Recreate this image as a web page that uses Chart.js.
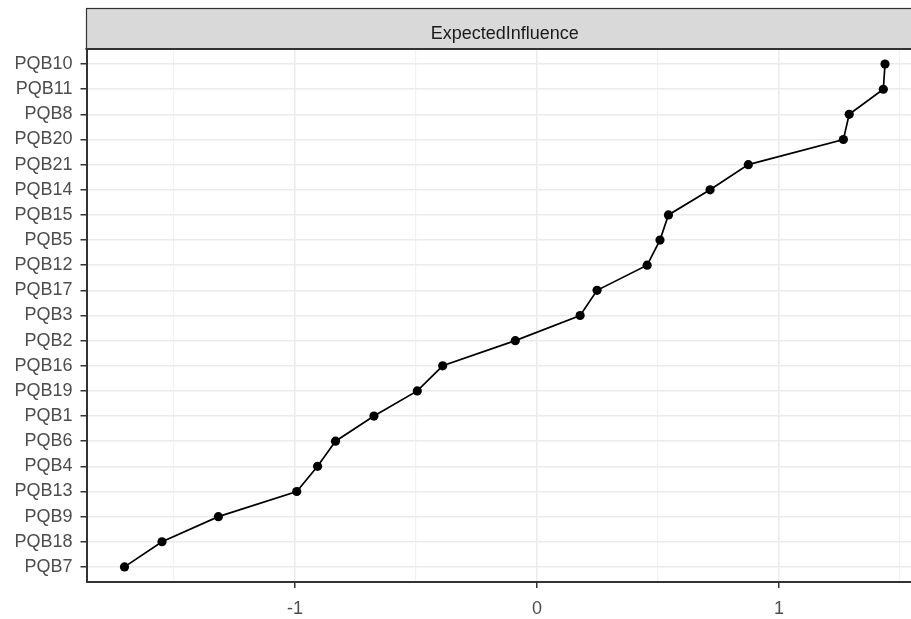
<!DOCTYPE html>
<html>
<head>
<meta charset="utf-8">
<script src="https://cdn.jsdelivr.net/npm/chart.js@4.4.1/dist/chart.umd.min.js"></script>
<style>
  html, body { margin: 0; padding: 0; background: #ffffff; overflow: hidden; }
  #wrap { width: 911px; height: 619px; overflow: hidden; position: relative; }
  canvas { display: block; }
</style>
</head>
<body>
<div id="wrap"><canvas id="c" width="930" height="619"></canvas></div>
<script>
// Categories, top to bottom as drawn
const categories = ['PQB10','PQB11','PQB8','PQB20','PQB21','PQB14','PQB15','PQB5','PQB12','PQB17','PQB3','PQB2','PQB16','PQB19','PQB1','PQB6','PQB4','PQB13','PQB9','PQB18','PQB7'];
// Expected influence values
const expectedInfluence = [1.438, 1.431, 1.290, 1.266, 0.873, 0.715, 0.543, 0.508, 0.455, 0.248, 0.178, -0.090, -0.390, -0.495, -0.674, -0.833, -0.907, -0.993, -1.317, -1.550, -1.705];
// Axis ticks
const xMajorTicks = [-1, 0, 1];
const xMinorTicks = [-1.5, -0.5, 0.5, 1.5];
const facetTitle = 'ExpectedInfluence';

const FONT = "'Liberation Sans', Arial, sans-serif";

const points = categories.map((c, i) => ({ x: expectedInfluence[i], y: i }));

const stripPlugin = {
  id: 'strip',
  afterDraw(chart) {
    const { ctx, chartArea } = chart;
    const left = chartArea.left, right = chartArea.right;
    const top = 8.5, bottom = chartArea.top;
    ctx.save();
    ctx.fillStyle = '#D9D9D9';
    ctx.fillRect(left, top, right - left, bottom - top);
    ctx.strokeStyle = '#333333';
    ctx.lineWidth = 1.2;
    ctx.strokeRect(left, top, right - left, bottom - top);
    ctx.lineWidth = 2;
    ctx.beginPath();
    ctx.moveTo(left - 1, bottom);
    ctx.lineTo(right, bottom);
    ctx.stroke();
    ctx.fillStyle = '#1A1A1A';
    ctx.font = '18px ' + FONT;
    ctx.textAlign = 'center';
    ctx.textBaseline = 'alphabetic';
    ctx.fillText(facetTitle, (left + right) / 2, 38.5);
    ctx.restore();
  }
};

const isMajor = v => xMajorTicks.includes(v);

new Chart(document.getElementById('c'), {
  type: 'scatter',
  data: {
    datasets: [{
      data: points,
      showLine: true,
      borderColor: '#000000',
      borderWidth: 1.7,
      backgroundColor: '#000000',
      pointBackgroundColor: '#000000',
      pointBorderColor: '#000000',
      pointRadius: 4.6,
      pointBorderWidth: 0,
      tension: 0
    }]
  },
  options: {
    responsive: false,
    animation: false,
    devicePixelRatio: 1,
    layout: { padding: { left: 0, right: 7, top: 49, bottom: 0 } },
    plugins: {
      legend: { display: false },
      tooltip: { enabled: false },
      title: { display: false }
    },
    scales: {
      x: {
        type: 'linear',
        min: -1.862,
        max: 1.595,
        afterBuildTicks: s => { s.ticks = [...xMinorTicks, ...xMajorTicks].sort((a, b) => a - b).map(v => ({ value: v })); },
        afterFit: s => { s.height = 37; },
        grid: {
          color: ctx => isMajor(ctx.tick && ctx.tick.value) ? '#EBEBEB' : '#F2F2F2',
          lineWidth: ctx => isMajor(ctx.tick && ctx.tick.value) ? 1.5 : 1.2,
          tickColor: ctx => isMajor(ctx.tick && ctx.tick.value) ? '#333333' : 'rgba(0,0,0,0)',
          tickLength: 6,
          tickWidth: 1.5,
          drawTicks: true
        },
        border: { display: true, color: '#333333', width: 2 },
        ticks: {
          autoSkip: false,
          maxRotation: 0,
          padding: 10,
          color: '#4D4D4D',
          font: { family: FONT, size: 18 },
          callback: v => isMajor(v) ? String(v) : ''
        }
      },
      y: {
        type: 'linear',
        reverse: true,
        min: -0.6,
        max: 20.6,
        afterBuildTicks: s => { s.ticks = categories.map((c, i) => ({ value: i })); },
        afterFit: s => { s.width = 86.5; },
        grid: {
          color: '#EBEBEB',
          lineWidth: 1.5,
          tickColor: '#333333',
          tickLength: 6,
          tickWidth: 1.5,
          drawTicks: true
        },
        border: { display: true, color: '#333333', width: 2 },
        ticks: {
          autoSkip: false,
          padding: 8,
          color: '#4D4D4D',
          font: { family: FONT, size: 18 },
          callback: v => categories[v] !== undefined ? categories[v] : ''
        }
      }
    }
  },
  plugins: [stripPlugin]
});
</script>
</body>
</html>
